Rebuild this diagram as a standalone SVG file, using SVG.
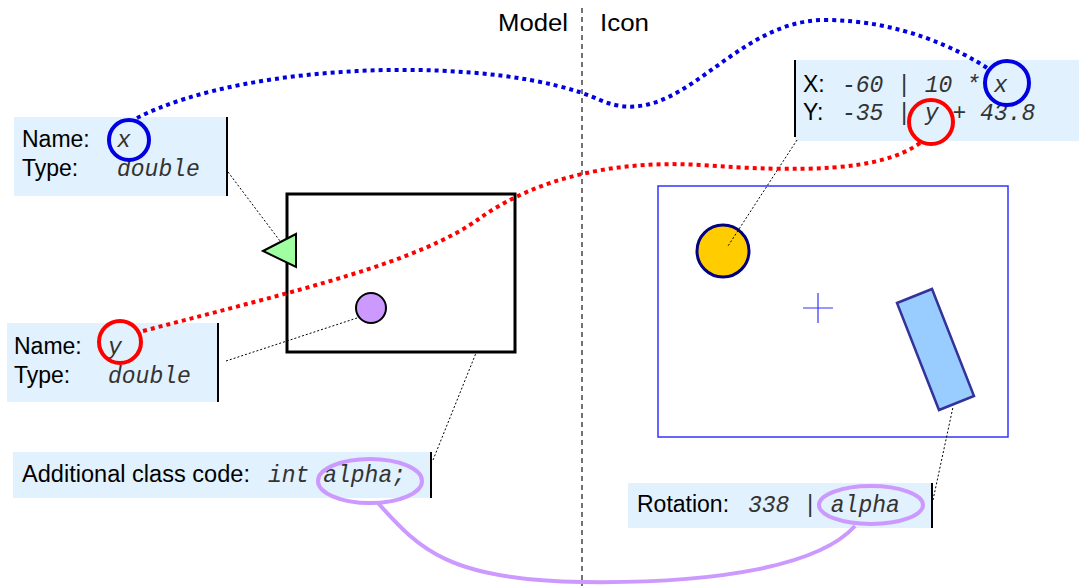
<svg xmlns="http://www.w3.org/2000/svg" width="1079" height="586" viewBox="0 0 1079 586">
<style>
.box{fill:#e1f1fd;stroke:none}
.bar{stroke:#000;stroke-width:2}
.sans{font-family:"Liberation Sans",Arial,sans-serif;font-size:23px;fill:#000}
.mono{font-family:"Liberation Mono","Courier New",monospace;font-size:23px;font-style:italic;fill:#333}
.lead{stroke:#000;stroke-width:1;stroke-dasharray:2 2;fill:none}
.hl{fill:none;stroke-width:4}
</style>
<rect width="1079" height="586" fill="#fff"/>
<g id="divider">
<line x1="582" y1="8" x2="582" y2="586" stroke="#444" stroke-width="1.5" stroke-dasharray="5 4"/>
<text class="sans" x="498" y="31" textLength="70" lengthAdjust="spacingAndGlyphs">Model</text>
<text class="sans" x="600" y="31" textLength="49" lengthAdjust="spacingAndGlyphs">Icon</text>
</g>
<g id="model">
<rect x="287" y="194" width="228" height="158" fill="#fff" stroke="#000" stroke-width="3"/>
<polygon points="263,251 296,234 296,267" fill="#a0ffa0" stroke="#000" stroke-width="2"/>
<circle cx="371" cy="308" r="15" fill="#cc99ff" stroke="#000" stroke-width="2"/>
</g>
<g id="icon">
<rect x="658" y="186" width="350" height="251" fill="none" stroke="#3333ff" stroke-width="1.5"/>
<circle cx="723" cy="251" r="26" fill="#ffcc00" stroke="#000080" stroke-width="3"/>
<path d="M803,308 H833 M818,293 V323" stroke="#3333ff" stroke-width="1.2"/>
<polygon points="897,303 932,289 974,396 939,410" fill="#99ccff" stroke="#333399" stroke-width="2.5"/>
</g>
<g id="param-x">
<rect class="box" x="14" y="117" width="213" height="79"/>
<line class="bar" x1="227" y1="117" x2="227" y2="196"/>
<text class="sans" x="22" y="147">Name:</text>
<text class="sans" x="22" y="176">Type:</text>
<text class="mono" x="117" y="147">x</text>
<text class="mono" x="117" y="176">double</text>
<circle class="hl" cx="129" cy="140" r="20" stroke="#0000e0"/>
</g>
<g id="param-y">
<rect class="box" x="7" y="323" width="211" height="79"/>
<line class="bar" x1="218" y1="323" x2="218" y2="402"/>
<text class="sans" x="14" y="354">Name:</text>
<text class="sans" x="14" y="383">Type:</text>
<text class="mono" x="108" y="354">y</text>
<text class="mono" x="108" y="383">double</text>
<circle class="hl" cx="120" cy="342" r="21" stroke="#ff0000"/>
</g>
<g id="class-code">
<rect class="box" x="13" y="452" width="418" height="46"/>
<line class="bar" x1="431" y1="452" x2="431" y2="498"/>
<text class="sans" x="22" y="482" textLength="228" lengthAdjust="spacingAndGlyphs">Additional class code:</text>
<text class="mono" x="268" y="482">int alpha;</text>
<ellipse class="hl" cx="370" cy="481" rx="52" ry="22" stroke="#cc99ff"/>
</g>
<g id="rotation">
<rect class="box" x="628" y="483" width="304" height="45"/>
<line class="bar" x1="932" y1="483" x2="932" y2="528"/>
<text class="sans" x="637" y="512">Rotation:</text>
<text class="mono" x="748" y="512">338 | alpha</text>
<ellipse class="hl" cx="871" cy="505" rx="52" ry="19" stroke="#cc99ff"/>
</g>
<g id="position">
<rect class="box" x="795" y="60" width="284" height="81"/>
<line class="bar" x1="795" y1="60" x2="795" y2="137"/>
<text class="sans" x="803" y="92">X:</text>
<text class="sans" x="803" y="120">Y:</text>
<text class="mono" x="842" y="92">-60 | 10 * x</text>
<text class="mono" x="842" y="120">-35 | y + 43.8</text>
<circle class="hl" cx="1007" cy="83" r="22" stroke="#0000e0"/>
<circle class="hl" cx="931" cy="122" r="22" stroke="#ff0000"/>
</g>
<g id="connectors">
<line class="lead" x1="228" y1="172" x2="280" y2="241"/>
<line class="lead" x1="226" y1="361" x2="360" y2="317"/>
<line class="lead" x1="433" y1="460" x2="476" y2="353"/>
<line class="lead" x1="797" y1="140" x2="728" y2="246"/>
<line class="lead" x1="933" y1="500" x2="953" y2="407"/>
<path class="hl" stroke="#0000e0" stroke-dasharray="4 4" d="M137,118 C250,60 500,55 600,100 C680,135 730,20 825,20 C900,20 960,50 987,68"/>
<path class="hl" stroke="#ff0000" stroke-dasharray="4 4" d="M143,331 C300,290 420,262 480,218 C540,176 620,160 700,165 C800,172 880,172 920,143"/>
<path class="hl" stroke="#cc99ff" d="M378,503 C420,550 450,580 582,582 C720,584 820,565 855,526"/>
</g>
</svg>
